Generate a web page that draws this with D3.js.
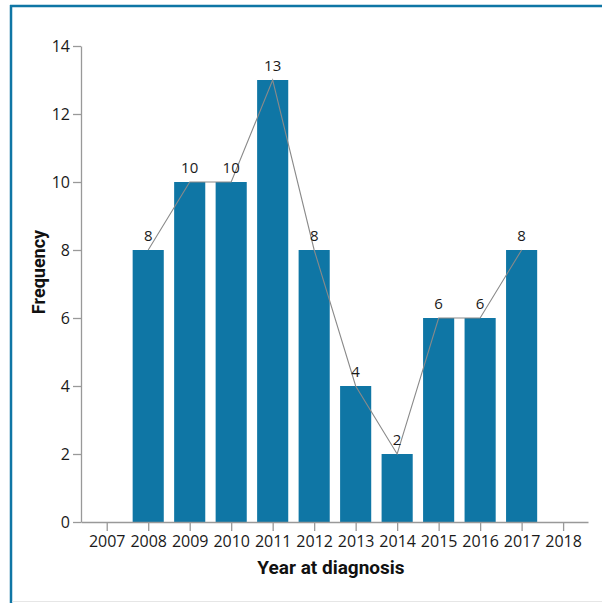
<!DOCTYPE html>
<html><head><meta charset="utf-8">
<script src="https://cdn.jsdelivr.net/npm/d3@7"></script>
<style>body{margin:0;background:#fff}svg{display:block}</style>
</head><body>
<script>
const years = [2008,2009,2010,2011,2012,2013,2014,2015,2016,2017];
const counts = [8,10,10,13,8,4,2,6,6,8];
const xTicks = [2007,2008,2009,2010,2011,2012,2013,2014,2015,2016,2017,2018];
const yTicks = [0,2,4,6,8,10,12,14];
const xTitle = "Year at diagnosis";
const yTitle = "Frequency";

const W=602,H=603;
const svg=d3.select("body").append("svg").attr("width",W).attr("height",H);
const blue="#0f76a5";
// frame
svg.append("line").attr("x1",10).attr("x2",602).attr("y1",6).attr("y2",6).attr("stroke",blue).attr("stroke-width",2.5);
svg.append("line").attr("x1",11).attr("x2",11).attr("y1",5).attr("y2",603).attr("stroke",blue).attr("stroke-width",2.5);
svg.append("line").attr("x1",12).attr("x2",602).attr("y1",601.5).attr("y2",601.5).attr("stroke","#e6e6e6").attr("stroke-width",1);

const x=d3.scaleLinear().domain([2006.38,2018.6]).range([81,588]);
const y=d3.scaleLinear().domain([0,14]).range([522,46]);
const font="'Open Sans', sans-serif";
const bw=(x(2008)-x(2007))*0.75;

svg.selectAll("rect.bar").data(years).enter().append("rect")
 .attr("x",(d)=>x(d)-bw/2).attr("width",bw)
 .attr("y",(d,i)=>y(counts[i])).attr("height",(d,i)=>y(0)-y(counts[i]))
 .attr("fill",blue);

const line=d3.line().x((d,i)=>x(years[i])).y(d=>y(d));
svg.append("path").datum(counts).attr("d",line).attr("fill","none").attr("stroke","#8a8a8a").attr("stroke-width",1.1);

svg.selectAll("text.val").data(counts).enter().append("text")
 .attr("x",(d,i)=>x(years[i])).attr("y",d=>y(d)-9)
 .attr("text-anchor","middle").attr("font-family",font).attr("font-size",15).attr("fill","#1a1a1a")
 .text(d=>d);

const gx=svg.append("g").attr("transform","translate(0,522)")
 .call(d3.axisBottom(x).tickValues(xTicks).tickFormat(d3.format("d")).tickSizeInner(9).tickSizeOuter(0).tickPadding(5));
const gy=svg.append("g").attr("transform","translate(81,0)")
 .call(d3.axisLeft(y).tickValues(yTicks).tickSizeInner(8).tickSizeOuter(0).tickPadding(3));
[gx,gy].forEach(g=>{
 g.attr("font-size",null).attr("font-family",null);
 g.select(".domain").attr("stroke","#999").attr("stroke-width",1.3);
 g.selectAll(".tick line").attr("stroke","#999").attr("stroke-width",1.3);
 g.selectAll(".tick text").attr("font-family",font).attr("font-size",16).attr("fill","#1a1a1a");
});

svg.append("text").attr("x",331).attr("y",574).attr("text-anchor","middle")
 .attr("font-family","'Roboto',sans-serif").attr("font-weight","bold").attr("font-size",19).attr("fill","#111").text(xTitle);
svg.append("text").attr("transform","translate(45,272) rotate(-90)").attr("text-anchor","middle")
 .attr("font-family","'Roboto',sans-serif").attr("font-weight","bold").attr("font-size",18).attr("fill","#111").text(yTitle);
</script>
</body></html>
